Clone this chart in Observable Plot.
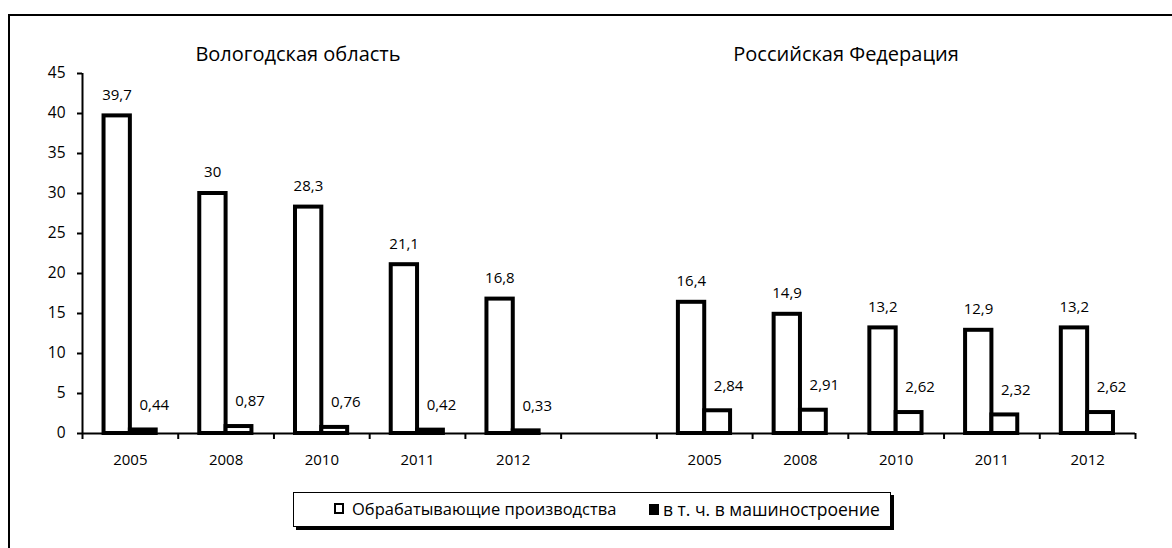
<!DOCTYPE html>
<html>
<head>
<meta charset="utf-8">
<script src="https://cdn.jsdelivr.net/npm/d3@7"></script>
<script src="https://cdn.jsdelivr.net/npm/@observablehq/plot@0.6"></script>
<style>
  html, body { margin: 0; padding: 0; background: #fff; overflow: hidden; }
  #wrap { position: relative; width: 1172px; height: 548px; font-family: "Open Sans", sans-serif; color: #000; }
  #frame { position: absolute; left: 8px; top: 14px; width: 1300px; height: 700px; border: 2px solid #000; box-sizing: border-box; }
  #chart { position: absolute; left: 0; top: 0; }
  .gtitle { position: absolute; top: 40px; font-size: 20px; white-space: nowrap; transform: translateX(-50%); }
  #legend { position: absolute; left: 293px; top: 492px; width: 598px; height: 35px; border: 1.5px solid #000; box-shadow: 3px 3px 0 #000; background: #fff; box-sizing: border-box; font-size: 16.5px; }
  .li { position: absolute; top: 4px; white-space: nowrap; display: flex; align-items: center; }
  .sw { width: 6px; height: 7px; border: 2.5px solid #000; display: inline-block; margin-right: 8px; }
</style>
</head>
<body>
<div id="wrap">
  <div id="frame"></div>
  <div id="chart"></div>
  <div class="gtitle" id="t0" style="left:298px"></div>
  <div class="gtitle" id="t1" style="left:846px"></div>
  <div id="legend">
    <div class="li" style="left:40px"><span class="sw" style="background:#fff"></span><span id="l0"></span></div>
    <div class="li" style="left:355px"><span class="sw" style="background:#000;margin-right:4px"></span><span id="l1" style="font-size:17.5px"></span></div>
  </div>
</div>
<script>
const years = ["2005", "2008", "2010", "2011", "2012"];
const regions = ["Вологодская область", "Российская Федерация"];
const seriesNames = ["Обрабатывающие производства", "в т. ч. в машиностроение"];
const manufacturingVologda = [39.7, 30, 28.3, 21.1, 16.8];
const machineryVologda = [0.44, 0.87, 0.76, 0.42, 0.33];
const manufacturingRF = [16.4, 14.9, 13.2, 12.9, 13.2];
const machineryRF = [2.84, 2.91, 2.62, 2.32, 2.62];
const yTicks = [0, 5, 10, 15, 20, 25, 30, 35, 40, 45];

// Build table: slot index (gap slot between the two regions)
const slotsPerGroup = years.length + 1;
const rows = [];
[[manufacturingVologda, machineryVologda], [manufacturingRF, machineryRF]].forEach((pair, g) => {
  years.forEach((yr, i) => {
    pair.forEach((vals, s) => {
      rows.push({region: regions[g], year: yr, slot: g * slotsPerGroup + i, series: s, value: vals[i]});
    });
  });
});
const yearSlots = rows.filter(d => d.series === 0);
const nSlots = slotsPerGroup * 2 - 1;
const fmt = v => String(v).replace(".", ",");
const barX1 = d => d.slot + (d.series === 0 ? 0.225 : 0.5);
const barX2 = d => d.slot + (d.series === 0 ? 0.5 : 0.77);

const chart = Plot.plot({
  width: 1172,
  height: 470,
  marginTop: 73,
  marginBottom: 37,
  marginLeft: 82,
  marginRight: 37,
  style: {fontFamily: "'Open Sans', sans-serif", fontSize: "15px", color: "#000", background: "transparent"},
  x: {type: "linear", domain: [0, nSlots], axis: null},
  y: {domain: [0, 45], axis: null},
  marks: [
    Plot.axisY({ticks: yTicks, label: null, tickSize: 5, tickPadding: 12, tickFormat: d => d, stroke: "#000", strokeWidth: 2, fontSize: 15.5, fill: "#000"}),
    Plot.axisX({ticks: d3.range(0, nSlots + 1), label: null, tickSize: 6, tickPadding: 0, tickFormat: () => "", stroke: "#000", strokeWidth: 2}),
    Plot.rectY(rows, {x1: barX1, x2: barX2, y1: 0, y2: "value", fill: "#fff", stroke: "#000", strokeWidth: 4, strokeLinejoin: "miter"}),
    Plot.ruleX([0], {stroke: "#000", strokeWidth: 2}),
    Plot.ruleY([0], {stroke: "#000", strokeWidth: 2}),
    Plot.text(yearSlots, {x: d => d.slot + 0.5, y: 0, text: "year", dy: 27, fontSize: 15, fill: "#000"}),
    Plot.text(rows.filter(d => d.series === 0), {x: d => d.slot + 0.36, y: "value", text: d => fmt(d.value), dy: -21, fontSize: 15, fill: "#000"}),
    Plot.text(rows.filter(d => d.series === 1), {x: d => d.slot + 0.635, y: "value", text: d => fmt(d.value), dx: 11, dy: -25, fontSize: 15, fill: "#000"})
  ]
});
document.getElementById("chart").appendChild(chart);
document.getElementById("t0").textContent = regions[0];
document.getElementById("t1").textContent = regions[1];
document.getElementById("l0").textContent = seriesNames[0];
document.getElementById("l1").textContent = seriesNames[1];
</script>
</body>
</html>
